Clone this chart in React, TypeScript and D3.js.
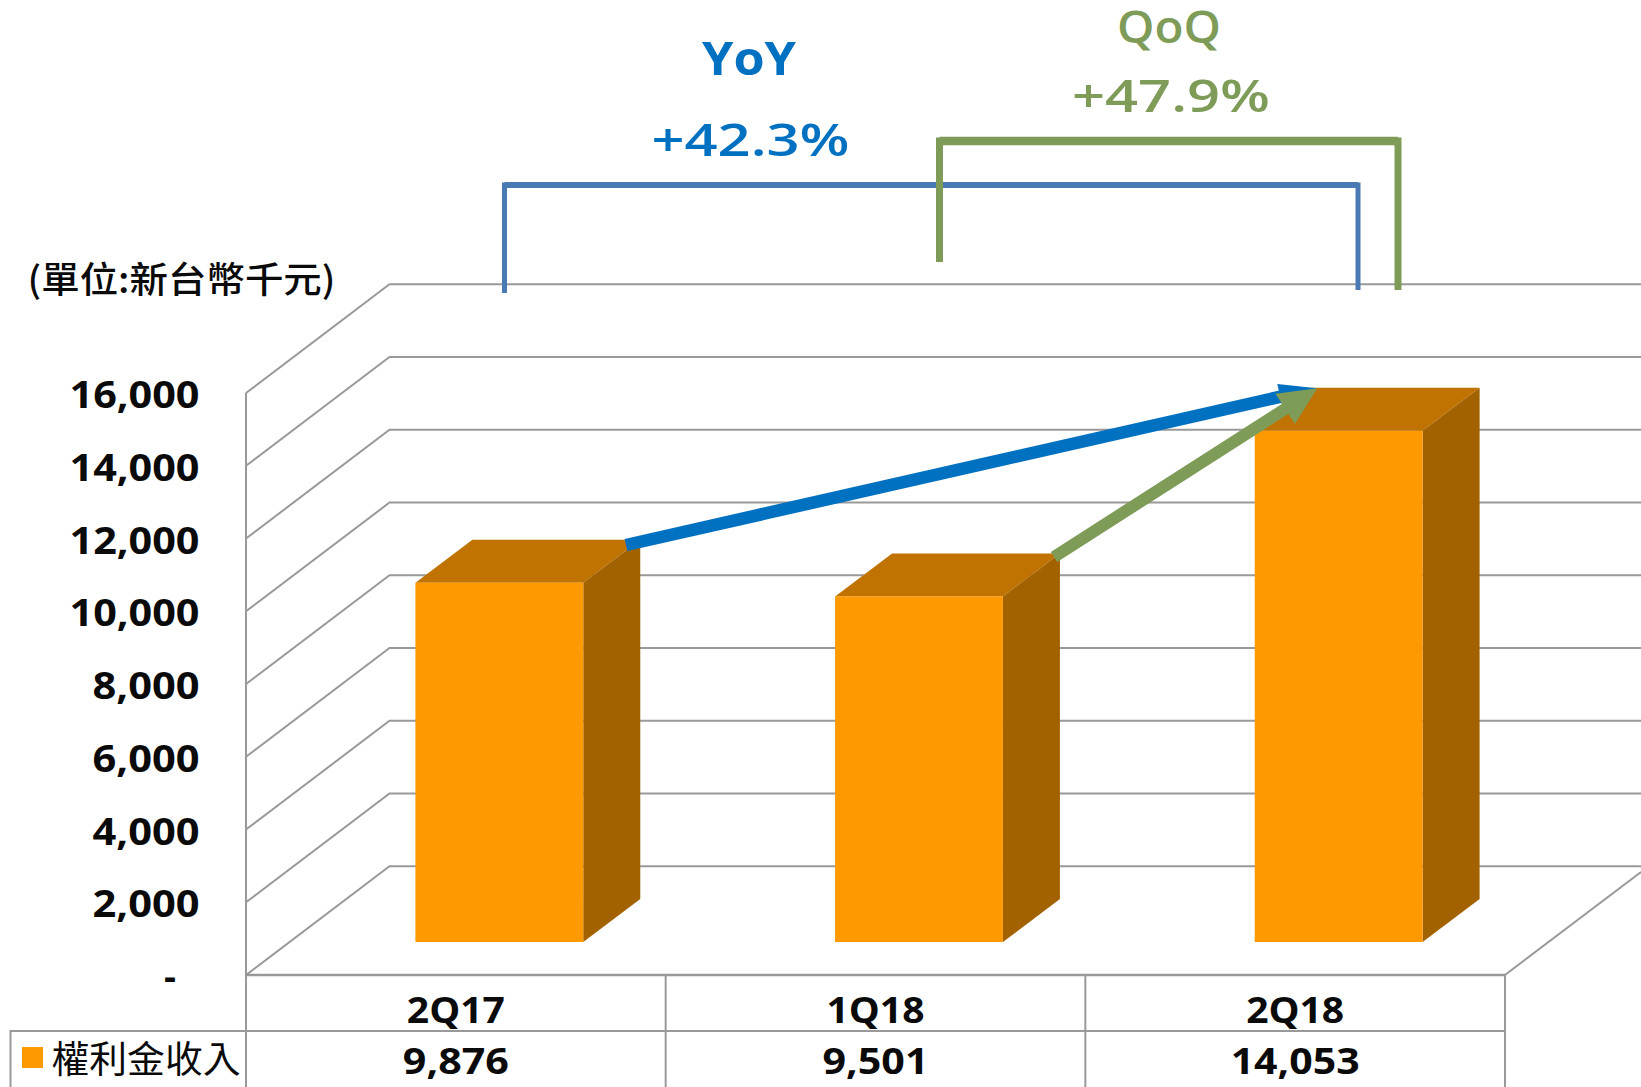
import React from "react";
import * as d3 from "d3";

const categories = ["2Q17", "1Q18", "2Q18"];
const royaltyRevenue = [9876, 9501, 14053];
const yTicks = [0, 2000, 4000, 6000, 8000, 10000, 12000, 14000, 16000];
const seriesName = "權利金收入";
const unitLabel = "(單位:新台幣千元)";
const yoy = ["YoY", "+42.3%"];
const qoq = ["QoQ", "+47.9%"];

const W = 1641, H = 1087;
const X0 = 246, X1 = 1505, Y0 = 975, Y1 = 393;
const DX = 143.5, DY = 108.7; // wall depth
const BDX = 57, BDY = 43; // bar depth
const FLOOR_X = 43.5, FLOOR_Y = 33; // bar offset from front edge of the floor

const GRID = "#999999";
const BLUE = "#0070C0";
const BLUE2 = "#4A7AB3";
const GREEN = "#7E9C58";
const FONT = "'Open Sans', 'Noto Sans', sans-serif";
const CJK = "'Noto Sans CJK TC', sans-serif";

const x = d3.scaleBand<string>().domain(categories).range([X0, X1]).paddingInner(0).paddingOuter(0);
const y = d3.scaleLinear().domain([0, 16000]).range([Y0, Y1]);
const fmt = d3.format(",");
const barW = x.bandwidth() * 0.4;
const line = d3.line();

function T({ x: px, y: py, w, size, fill = "#0a0a0a", anchor = "middle", weight = 700, family = FONT, adjust = "spacingAndGlyphs", children }: any) {
  return (
    <text x={px} y={py} fontSize={size} fontWeight={weight} fontFamily={family} fill={fill} textAnchor={anchor}
      textLength={w} lengthAdjust={adjust}>{children}</text>
  );
}

function Arrow({ from, to, color, width, headL, headW }: any) {
  const dx = to[0] - from[0], dy = to[1] - from[1];
  const len = Math.hypot(dx, dy);
  const ux = dx / len, uy = dy / len;
  const bx = to[0] - ux * headL, by = to[1] - uy * headL;
  const head: [number, number][] = [
    to,
    [bx - uy * headW, by + ux * headW],
    [bx + uy * headW, by - ux * headW],
  ];
  return (
    <g>
      <path d={line([from, [bx + ux * 2, by + uy * 2]]) as string} stroke={color} strokeWidth={width} fill="none" />
      <path d={(line(head) as string) + "Z"} fill={color} />
    </g>
  );
}

export default function App() {
  const barFront = (i: number) => (x(categories[i]) as number) + (x.bandwidth() - barW) / 2 + FLOOR_X;
  const barBase = Y0 - FLOOR_Y;
  const barTop = (i: number) => y(royaltyRevenue[i]) - FLOOR_Y;
  const tip: [number, number] = [barFront(2) + BDX + 5.5, barTop(2) - BDY + 0.5];

  return (
    <svg width={W} height={H} viewBox={`0 0 ${W} ${H}`} style={{ position: "absolute", left: 0, top: 0, background: "#fff" }}>
      {/* walls */}
      {yTicks.map((t) => (
        <path key={t} fill="none" stroke={GRID} strokeWidth={2}
          d={line([[X0, y(t)], [X0 + DX, y(t) - DY], [W, y(t) - DY]]) as string} />
      ))}
      <path d={line([[X0, Y1], [X0, H]]) as string} stroke={GRID} strokeWidth={2} />
      <path d={line([[X0, Y0], [X1, Y0]]) as string} stroke={GRID} strokeWidth={2.5} />
      <path d={line([[X1, Y0], [W, Y0 - (W - X1) * DY / DX]]) as string} stroke={GRID} strokeWidth={2} />

      {/* data table */}
      {[...categories.map((c) => x(c) as number), X1].map((lx) => (
        <path key={lx} d={line([[lx, Y0], [lx, H]]) as string} stroke={GRID} strokeWidth={2} />
      ))}
      <path d={line([[10.5, H], [10.5, 1031], [X1, 1031]]) as string} fill="none" stroke={GRID} strokeWidth={2} />

      {/* bars */}
      {royaltyRevenue.map((v, i) => {
        const l = barFront(i), r = l + barW, t = barTop(i), b = barBase;
        return (
          <g key={categories[i]}>
            <path fill="#C07300" d={(line([[l, t], [l + BDX, t - BDY], [r + BDX, t - BDY], [r, t]]) as string) + "Z"} />
            <path fill="#A36200" d={(line([[r, t], [r + BDX, t - BDY], [r + BDX, b - BDY], [r, b]]) as string) + "Z"} />
            <rect x={l} y={t} width={barW} height={b - t} fill="#FF9900" />
          </g>
        );
      })}

      {/* y labels */}
      {yTicks.map((t) => (
        t === 0
          ? <T key={t} x={176} y={y(t) + 15} size={37} anchor="end" w={12}>-</T>
          : <T key={t} x={199.5} y={y(t) + 15} size={38} anchor="end" w={t >= 10000 ? 130 : 107}>{fmt(t)}</T>
      ))}

      {/* table text */}
      {categories.map((c, i) => (
        <g key={c}>
          <T x={(x(c) as number) + x.bandwidth() / 2} y={1022.7} size={35} w={98}>{c}</T>
          <T x={(x(c) as number) + x.bandwidth() / 2} y={1074} size={36} w={royaltyRevenue[i] >= 10000 ? 129 : 106}>{fmt(royaltyRevenue[i])}</T>
        </g>
      ))}
      <rect x={22} y={1047} width={21} height={21} fill="#FF9900" />
      <T x={51.5} y={1073} size={37} anchor="start" weight={400} family={CJK} w={189}>{seriesName}</T>
      <T x={27.5} y={292.5} size={36} anchor="start" weight={500} family={CJK} w={308}>{unitLabel}</T>

      {/* arrows */}
      <Arrow from={[626, 545]} to={tip} color={BLUE} width={12.5} headL={38} headW={13} />
      <Arrow from={[1054, 557]} to={tip} color={GREEN} width={12} headL={38} headW={18} />

      {/* brackets */}
      <path fill="none" stroke={BLUE2} strokeWidth={5}
        d={line([[504.5, 293], [504.5, 185], [1358, 185], [1358, 290]]) as string} />
      <path fill="none" stroke={BLUE2} strokeWidth={6}
        d={line([[504.5, 185], [1358, 185]]) as string} />
      <path fill="none" stroke={GREEN} strokeWidth={7}
        d={line([[939.5, 262], [939.5, 141], [1398, 141], [1398, 290]]) as string} />
      <path fill="none" stroke={GREEN} strokeWidth={8.5}
        d={line([[939.5, 141], [1398, 141]]) as string} />

      {/* annotations */}
      <T x={749} y={75} size={46} fill={BLUE} w={94}>{yoy[0]}</T>
      <T x={750.5} y={155.7} size={46} fill={BLUE} w={198} weight={600}>{yoy[1]}</T>
      <T x={1169} y={42.5} size={46} fill={GREEN} w={104} weight={600}>{qoq[0]}</T>
      <T x={1171} y={111.7} size={46} fill={GREEN} w={198} weight={600}>{qoq[1]}</T>
    </svg>
  );
}
